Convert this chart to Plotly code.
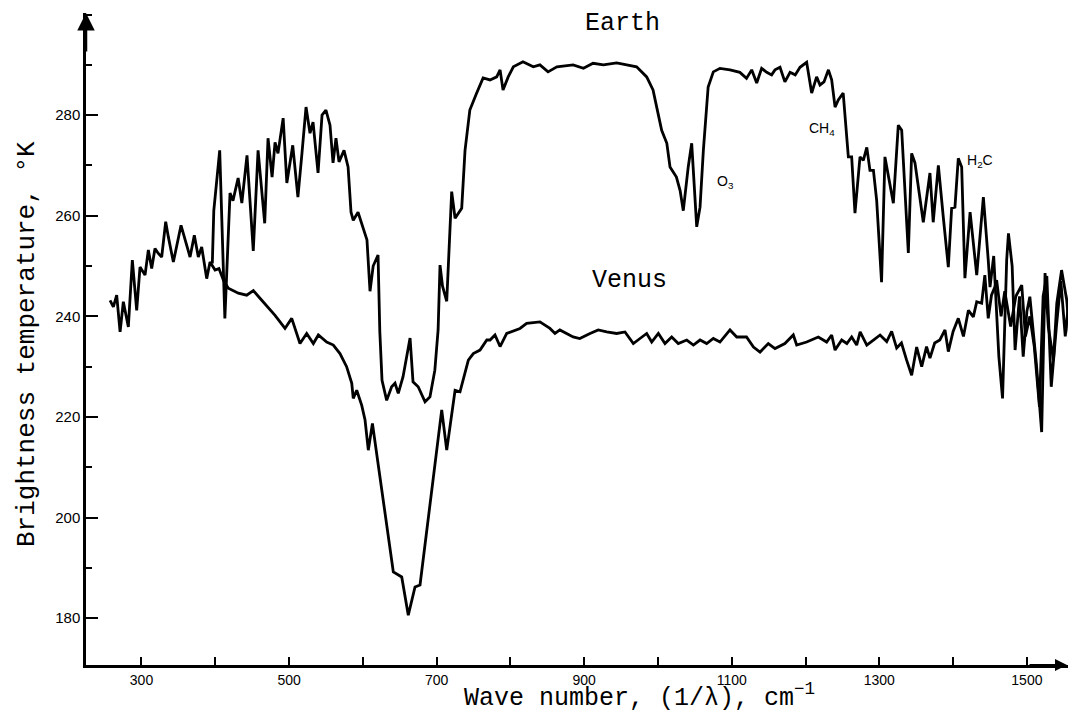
import plotly.graph_objects as go

# ---------------- data (wave number cm^-1, brightness temperature K) ----------------
earth_wn = [396, 398, 406, 413, 420, 424, 431, 436, 443, 451.5, 458, 467, 471.5, 477, 481, 485,
            492, 497, 505, 512, 517.6, 523, 528.4, 532.5, 539.3, 544.7, 550, 555.5, 559.6, 563.6,
            567.7, 574.5, 580, 584, 587, 593.5, 605.6, 609.7, 614, 620.6, 623, 626, 632.3, 639,
            643.6, 648, 654.5, 664, 668, 675, 684.3, 691, 697.6, 702, 704.6, 708, 713.7, 718,
            720.4, 725, 734, 738.5, 745, 754.3, 763, 772.4, 781.4, 786, 790, 797, 804, 817, 831,
            840, 851, 863, 885, 899, 912, 926, 944, 957.6, 971, 984.7, 993.3, 1000, 1005, 1012,
            1016.3, 1025, 1030, 1034.3, 1041, 1045.7, 1048.8, 1052.5, 1057, 1061.5, 1068, 1075,
            1084, 1097.6, 1111, 1120, 1127, 1133.8, 1140.5, 1147.4, 1154, 1158.6, 1165.4, 1172,
            1179, 1186, 1192.5, 1201.5, 1208.3, 1215, 1219.6, 1225, 1231, 1235.4, 1240, 1244.4,
            1251, 1258, 1262.5, 1267, 1273.8, 1278.3, 1283, 1287.3, 1292, 1296.4, 1303, 1307.6,
            1319, 1325.7, 1330.3, 1339.3, 1343.8, 1348.3, 1359.6, 1368.6, 1373, 1380, 1386.7,
            1393.5, 1398, 1402.5, 1407, 1411.6, 1416, 1423, 1432, 1441, 1447.6, 1450, 1455, 1462,
            1467, 1472.6, 1475, 1480, 1484, 1490, 1495, 1500, 1504, 1513, 1520, 1524.6, 1529,
            1536, 1540.5, 1547, 1554, 1560]
earth_t = [250.5, 261, 273, 239.6, 264.5, 263, 267.5, 262.5, 272, 253, 273, 258.5, 275.4, 267.7,
           274.6, 272.4, 279.4, 266.5, 274, 263.7, 272.6, 281.6, 276.4, 278.6, 268.5, 280, 281,
           278, 270.5, 275.4, 270.7, 273, 269.7, 260.7, 259.1, 260.7, 255.2, 245, 250, 252.2,
           237, 227.3, 223.3, 226, 226.7, 224.7, 228, 235.7, 227, 226, 223, 224, 229.3, 237.3,
           250.2, 246, 243, 257, 264.8, 259.5, 261.5, 273, 281, 284.4, 287.4, 287, 287.6, 289,
           285, 287.6, 289.6, 290.6, 289.6, 290, 288.6, 289.6, 290, 289.3, 290.3, 290, 290.4,
           290, 289.6, 287.6, 285, 280.4, 277, 274.4, 269.7, 267.7, 265, 261, 269.7, 274.4,
           265.7, 257.8, 261.7, 273, 285.6, 288.6, 289.3, 289, 288.5, 287.3, 289, 286.4, 289.3,
           288.5, 288, 289, 289.5, 286.6, 288.5, 288, 289.5, 290.5, 284.4, 287.6, 286, 286.6,
           289, 287, 281.6, 283, 284.4, 271.7, 271.7, 260.5, 271.7, 271, 273.6, 269, 269, 263,
           246.8, 271.7, 262.5, 278, 277, 252.6, 272.4, 270.5, 258.7, 268.5, 258.7, 270, 259.7,
           249.8, 261.5, 261.7, 271.4, 269.7, 247.6, 260.7, 248.2, 263.7, 251.2, 245.8, 252, 232,
           223.7, 251.2, 256.5, 250, 233.3, 244, 232, 241, 243.9, 230.3, 217, 248.6, 237.9,
           231.3, 242.6, 249.2, 243.2, 232]

venus_wn = [257.4, 261.9, 266.4, 271, 275.4, 282.2, 287.6, 293.5, 298, 304.8, 309.3, 313.8, 318.3,
            322.8, 327.4, 332.8, 336.4, 343.2, 353.6, 365.8, 371.6, 377, 381.6, 388.4, 392.9,
            399.7, 405, 411, 417.7, 431.3, 442.6, 451.6, 460.6, 472, 481, 494.5, 503.6, 514.8,
            523.9, 532.9, 539.7, 551, 560, 569, 578, 585, 587, 591.7, 598.5, 603, 607.4, 613,
            618.8, 641.3, 652.7, 661.6, 670.7, 677.5, 706.9, 713.7, 725, 731.7, 743, 749.7, 758.8,
            768, 772.4, 779.1, 786, 795, 813, 822, 840, 853.6, 860.4, 867, 885, 894, 907.9, 919,
            930.5, 944, 955.3, 966.6, 975.6, 984.7, 991.5, 1000.5, 1009.5, 1018.6, 1027.5, 1039,
            1048, 1057, 1066, 1075, 1084, 1097.6, 1106.7, 1120, 1129.4, 1138.3, 1149.5, 1158.6,
            1172, 1183.4, 1188, 1201.5, 1217.3, 1228.6, 1235.4, 1240, 1249, 1256, 1262.5, 1269.3,
            1274, 1283, 1292, 1301, 1310, 1316.7, 1323.5, 1330, 1337, 1343.8, 1350.6, 1357.4,
            1364, 1368.6, 1375, 1382, 1389, 1393.5, 1400, 1407, 1414, 1420.7, 1427.4, 1432,
            1438.7, 1443, 1447.6, 1452, 1456.7, 1459, 1465, 1470, 1478, 1485, 1493, 1498, 1504,
            1510, 1517, 1522, 1527, 1533, 1540, 1546, 1552, 1558]
venus_t = [243.2, 241.9, 244.2, 236.9, 242.9, 237.9, 251.2, 241.2, 249.8, 248.2, 253.2, 249.5, 253.5,
           252.5, 251.8, 258.8, 255.8, 250.8, 258.1, 251.8, 256.1, 251.8, 253.8, 247.5, 250.8,
           249.2, 249.5, 247.2, 245.6, 244.6, 244.2, 245.1, 243.6, 241.6, 240.2, 237.6, 239.6,
           234.6, 236.6, 234.6, 236.3, 234.9, 234.3, 232.6, 230, 226.7, 223.7, 225.3, 222.3,
           219.4, 213.4, 218.7, 212.8, 189.2, 188.2, 180.6, 186.2, 186.6, 221.4, 213.4, 225.3,
           225, 231.3, 232.6, 233.3, 235.3, 235.3, 236.3, 234, 236.6, 237.6, 238.6, 238.9, 237.6,
           236.6, 237.3, 235.9, 235.6, 236.6, 237.3, 236.9, 236.6, 236.9, 234.6, 235.6, 236.6,
           234.9, 236.6, 234.6, 235.9, 234.6, 235.3, 234.3, 235.3, 234.6, 235.6, 234.9, 237.3,
           235.9, 235.9, 233.9, 232.9, 234.6, 233.6, 234.6, 236.3, 234.3, 234.9, 235.9, 234.9,
           236.3, 233.3, 235.3, 234.6, 235.9, 234.3, 236.9, 234.3, 235.3, 236.3, 235, 237,
           233.7, 234.7, 231.3, 228.3, 233.9, 230, 234, 231.7, 234.7, 235.3, 237.3, 233, 237,
           239.6, 236, 241.2, 239.9, 242.9, 242.6, 248.2, 239.6, 244.2, 245.9, 247.2, 240, 245,
           238, 244, 246.2, 236, 240, 234, 222, 244, 248, 226, 238, 247, 236, 245]

x_tick_vals = [300, 400, 500, 600, 700, 800, 900, 1000, 1100, 1200, 1300, 1400, 1500]
x_tick_text = ["300", "", "500", "", "700", "", "900", "", "1100", "", "1300", "", "1500"]
y_tick_vals = [180, 200, 220, 240, 260, 280]
y_tick_text = ["180", "200", "220", "240", "260", "280"]

x_title = "Wave number, (1/λ), cm<sup>−1</sup>"
y_title = "Brightness temperature, °K"

curve_labels = [
    ("Earth", 952, 298.3, "Liberation Mono", 25),
    ("Venus", 962, 247.2, "Liberation Mono", 25),
    ("O<sub>3</sub>", 1091, 266.7, "Liberation Sans", 14),
    ("CH<sub>4</sub>", 1222, 277.2, "Liberation Sans", 14),
    ("H<sub>2</sub>C", 1437, 270.8, "Liberation Sans", 14),
]

# ---------------- figure ----------------
fig = go.Figure()
fig.add_trace(go.Scatter(x=venus_wn, y=venus_t, mode="lines", name="Venus",
                         line=dict(color="black", width=2.8)))
fig.add_trace(go.Scatter(x=earth_wn, y=earth_t, mode="lines", name="Earth",
                         line=dict(color="black", width=2.8)))

annotations = []
for txt, ax_, ay_, fam, sz in curve_labels:
    annotations.append(dict(x=ax_, y=ay_, xref="x", yref="y", text=txt, showarrow=False,
                            font=dict(family=fam, size=sz, color="black")))
# axis titles placed as annotations
annotations.append(dict(x=975, y=0, xref="x", yref="paper", yanchor="middle", yshift=-31,
                        text=x_title, showarrow=False,
                        font=dict(family="Liberation Mono", size=25, color="black")))
annotations.append(dict(x=0, y=234.5, xref="paper", yref="y", xanchor="center", xshift=-59,
                        text=y_title, textangle=-90, showarrow=False,
                        font=dict(family="Liberation Mono", size=26, color="black")))
# axis arrows
annotations.append(dict(x=0, y=1, xref="paper", yref="paper", text="", showarrow=True,
                        ax=0, ay=40, arrowhead=2, arrowsize=1.4, arrowwidth=2.5, arrowcolor="black"))
annotations.append(dict(x=1, y=0, xref="paper", yref="paper", text="", showarrow=True,
                        ax=-40, ay=0, arrowhead=2, arrowsize=1.2, arrowwidth=2, arrowcolor="black"))

fig.update_layout(
    width=1068, height=715,
    margin=dict(l=86, r=0, t=13, b=50),
    paper_bgcolor="white", plot_bgcolor="white",
    showlegend=False,
    annotations=annotations,
    xaxis=dict(
        range=[224.8, 1555.7], showgrid=False, zeroline=False,
        showline=True, linecolor="black", linewidth=2.5,
        tickmode="array", tickvals=x_tick_vals, ticktext=x_tick_text,
        ticks="inside", ticklen=8, tickwidth=2, tickcolor="black",
        tickfont=dict(family="Liberation Sans", size=14, color="black"),
    ),
    yaxis=dict(
        range=[170.7, 300.3], showgrid=False, zeroline=False,
        showline=True, linecolor="black", linewidth=2.5,
        tickmode="array", tickvals=y_tick_vals, ticktext=y_tick_text,
        ticks="inside", ticklen=12, tickwidth=2, tickcolor="black",
        minor=dict(dtick=10, tick0=170, ticks="inside", ticklen=6, tickwidth=1.5, tickcolor="black"),
        tickfont=dict(family="Liberation Sans", size=15, color="black"),
    ),
)

fig.write_html("out.html", config={"displayModeBar": False},
               post_script="document.body.style.margin='0';document.body.style.overflow='hidden';")
